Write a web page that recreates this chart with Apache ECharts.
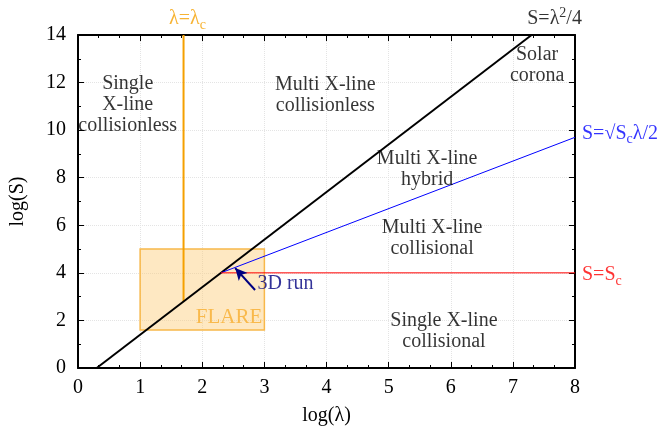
<!DOCTYPE html>
<html><head><meta charset="utf-8">
<script src="https://cdn.jsdelivr.net/npm/echarts@6/dist/echarts.min.js"></script>
<style>html,body{margin:0;padding:0;background:#fff}#c{width:662px;height:433px}</style>
</head><body><div id="c"></div>
<script>
// log(S) = 2 log(λ) - log 4  (S = λ²/4)
var blackLine = [[0.301, 0], [7.301, 14]];
// log(S) = log(λ) + log(√Sc/2), Sc = 1e4
var blueLine = [[2.301, 4], [8, 9.699]];
// S = Sc
var redLine = [[2.301, 4], [8, 4]];
// λ = λc
var orangeLine = [[1.699, 2.796], [1.699, 14]];
// FLARE region
var flareBox = [[1, 1.6], [3, 5]];
// 3D run arrow (tail, head)
var arrow3D = [[2.85, 3.28], [2.53, 4.2]];
var regionLabels = [
  [0.8, 11.05, 'Single\nX-line\ncollisionless'],
  [3.98, 11.47, 'Multi X-line\ncollisionless'],
  [7.39, 12.73, 'Solar\ncorona'],
  [5.62, 8.36, 'Multi X-line\nhybrid'],
  [5.70, 5.46, 'Multi X-line\ncollisional'],
  [5.89, 1.55, 'Single X-line\ncollisional']
];
var xTicks = [0, 1, 2, 3, 4, 5, 6, 7, 8];
var yTicks = [0, 2, 4, 6, 8, 10, 12, 14];

var FF = 'Liberation Serif';
var FS = 20;
function rich(color) {
  return {
    n: {fontFamily: FF, fontSize: FS, color: color},
    sub: {fontFamily: FF, fontSize: 14, color: color, padding: [12, 0, 0, 0]},
    sup: {fontFamily: FF, fontSize: 14, color: color, padding: [0, 0, 12, 0]}
  };
}
function curveLabel(p, fmt, color, pos, offset) {
  return {value: p, label: {show: true, position: pos, offset: offset || [0, 0],
    formatter: fmt, rich: rich(color)}};
}
var chart = echarts.init(document.getElementById('c'));
var axisCommon = {
  min: 0, type: 'value',
  axisLine: {show: true, onZero: false, lineStyle: {color: '#000', width: 2}},
  axisTick: {show: true, inside: true, length: 6, lineStyle: {color: '#000', width: 1}},
  minorTick: {show: true, length: 3, lineStyle: {color: '#000', width: 1}},
  axisLabel: {fontFamily: FF, fontSize: FS, color: '#000'}
};
function ax(extra) { return Object.assign({}, JSON.parse(JSON.stringify(axisCommon)), extra); }
var option = {
  animation: false,
  grid: {left: 78, right: 87, top: 35, bottom: 65},
  xAxis: [
    ax({max: 8, interval: 1, position: 'bottom', name: 'log(λ)', nameLocation: 'middle', nameGap: 38,
      nameTextStyle: {fontFamily: FF, fontSize: FS, color: '#000'},
      minorTick: {show: true, splitNumber: 3, length: 3, lineStyle: {color: '#000'}},
      axisLabel: {fontFamily: FF, fontSize: FS, color: '#000', margin: 10},
      splitLine: {show: true, lineStyle: {color: '#e4e4e4', type: 'dotted'}}}),
    ax({max: 8, interval: 1, position: 'top', axisLabel: {show: false},
      minorTick: {show: true, splitNumber: 3, length: 3, lineStyle: {color: '#000'}},
      splitLine: {show: false}})
  ],
  yAxis: [
    ax({max: 14, interval: 2, position: 'left', name: 'log(S)', nameLocation: 'middle', nameGap: 50,
      nameRotate: 90,
      nameTextStyle: {fontFamily: FF, fontSize: FS, color: '#000'},
      minorTick: {show: true, splitNumber: 2, length: 3, lineStyle: {color: '#000'}},
      axisLabel: {fontFamily: FF, fontSize: FS, color: '#000', margin: 12},
      splitLine: {show: true, lineStyle: {color: '#e4e4e4', type: 'dotted'}}}),
    ax({max: 14, interval: 2, position: 'right', axisLabel: {show: false},
      minorTick: {show: true, splitNumber: 2, length: 3, lineStyle: {color: '#000'}},
      splitLine: {show: false}})
  ],
  series: [
    {type: 'line', data: [], markArea: {silent: true,
      itemStyle: {color: 'rgba(253,205,120,0.45)', borderColor: '#f8b84a', borderWidth: 1.5},
      data: [[{coord: flareBox[0]}, {coord: flareBox[1]}]]}, z: 1},
    {type: 'line', symbol: 'none', clip: false, z: 3,
      lineStyle: {color: '#f5a000', width: 2}, data: orangeLine},
    {type: 'line', symbol: 'none', clip: false, z: 4,
      lineStyle: {color: '#000', width: 2}, data: blackLine},
    {type: 'line', symbol: 'none', clip: false, z: 4,
      lineStyle: {color: '#0000ff', width: 1}, data: blueLine},
    {type: 'line', symbol: 'none', clip: false, z: 4,
      lineStyle: {color: '#ff0000', width: 1}, data: redLine},
    {type: 'scatter', symbolSize: 0, clip: false, z: 7, silent: true,
      data: [
        curveLabel(orangeLine[1], '{n|λ=λ}{sub|c}', '#f5a000', 'top', [4, 2]),
        curveLabel(blackLine[1], '{n|S=λ}{sup|2}{n|/4}', '#000', 'top', [23, 2]),
        curveLabel(blueLine[1], '{n|S=√S}{sub|c}{n|λ/2}', '#0000ff', 'right', [2, -4]),
        curveLabel(redLine[1], '{n|S=S}{sub|c}', '#ff0000', 'right', [2, 2])
      ]},
    {type: 'line', data: [], z: 5, markLine: {silent: true, symbol: ['none', 'arrow'], symbolSize: [9, 12],
      lineStyle: {color: '#000080', width: 2, type: 'solid'}, label: {show: false},
      data: [[{coord: arrow3D[0]}, {coord: arrow3D[1]}]]}},
    {type: 'scatter', symbolSize: 0, z: 6, silent: true,
      data: regionLabels.map(function (d) { return {value: [d[0], d[1]], name: d[2]}; }),
      label: {show: true, position: 'inside', formatter: function (p) { return p.name; },
        fontFamily: FF, fontSize: FS, color: '#000', lineHeight: 21, align: 'center'}},
    {type: 'scatter', symbolSize: 0, z: 6, silent: true,
      data: [{value: [2.43, 2.14], name: 'FLARE', label: {color: '#f8ae2e', fontSize: 21}},
             {value: [3.34, 3.53], name: '3D run', label: {color: '#000080'}}],
      label: {show: true, position: 'inside', formatter: function (p) { return p.name; },
        fontFamily: FF, fontSize: FS}}
  ]
};
chart.setOption(option);
</script></body></html>
